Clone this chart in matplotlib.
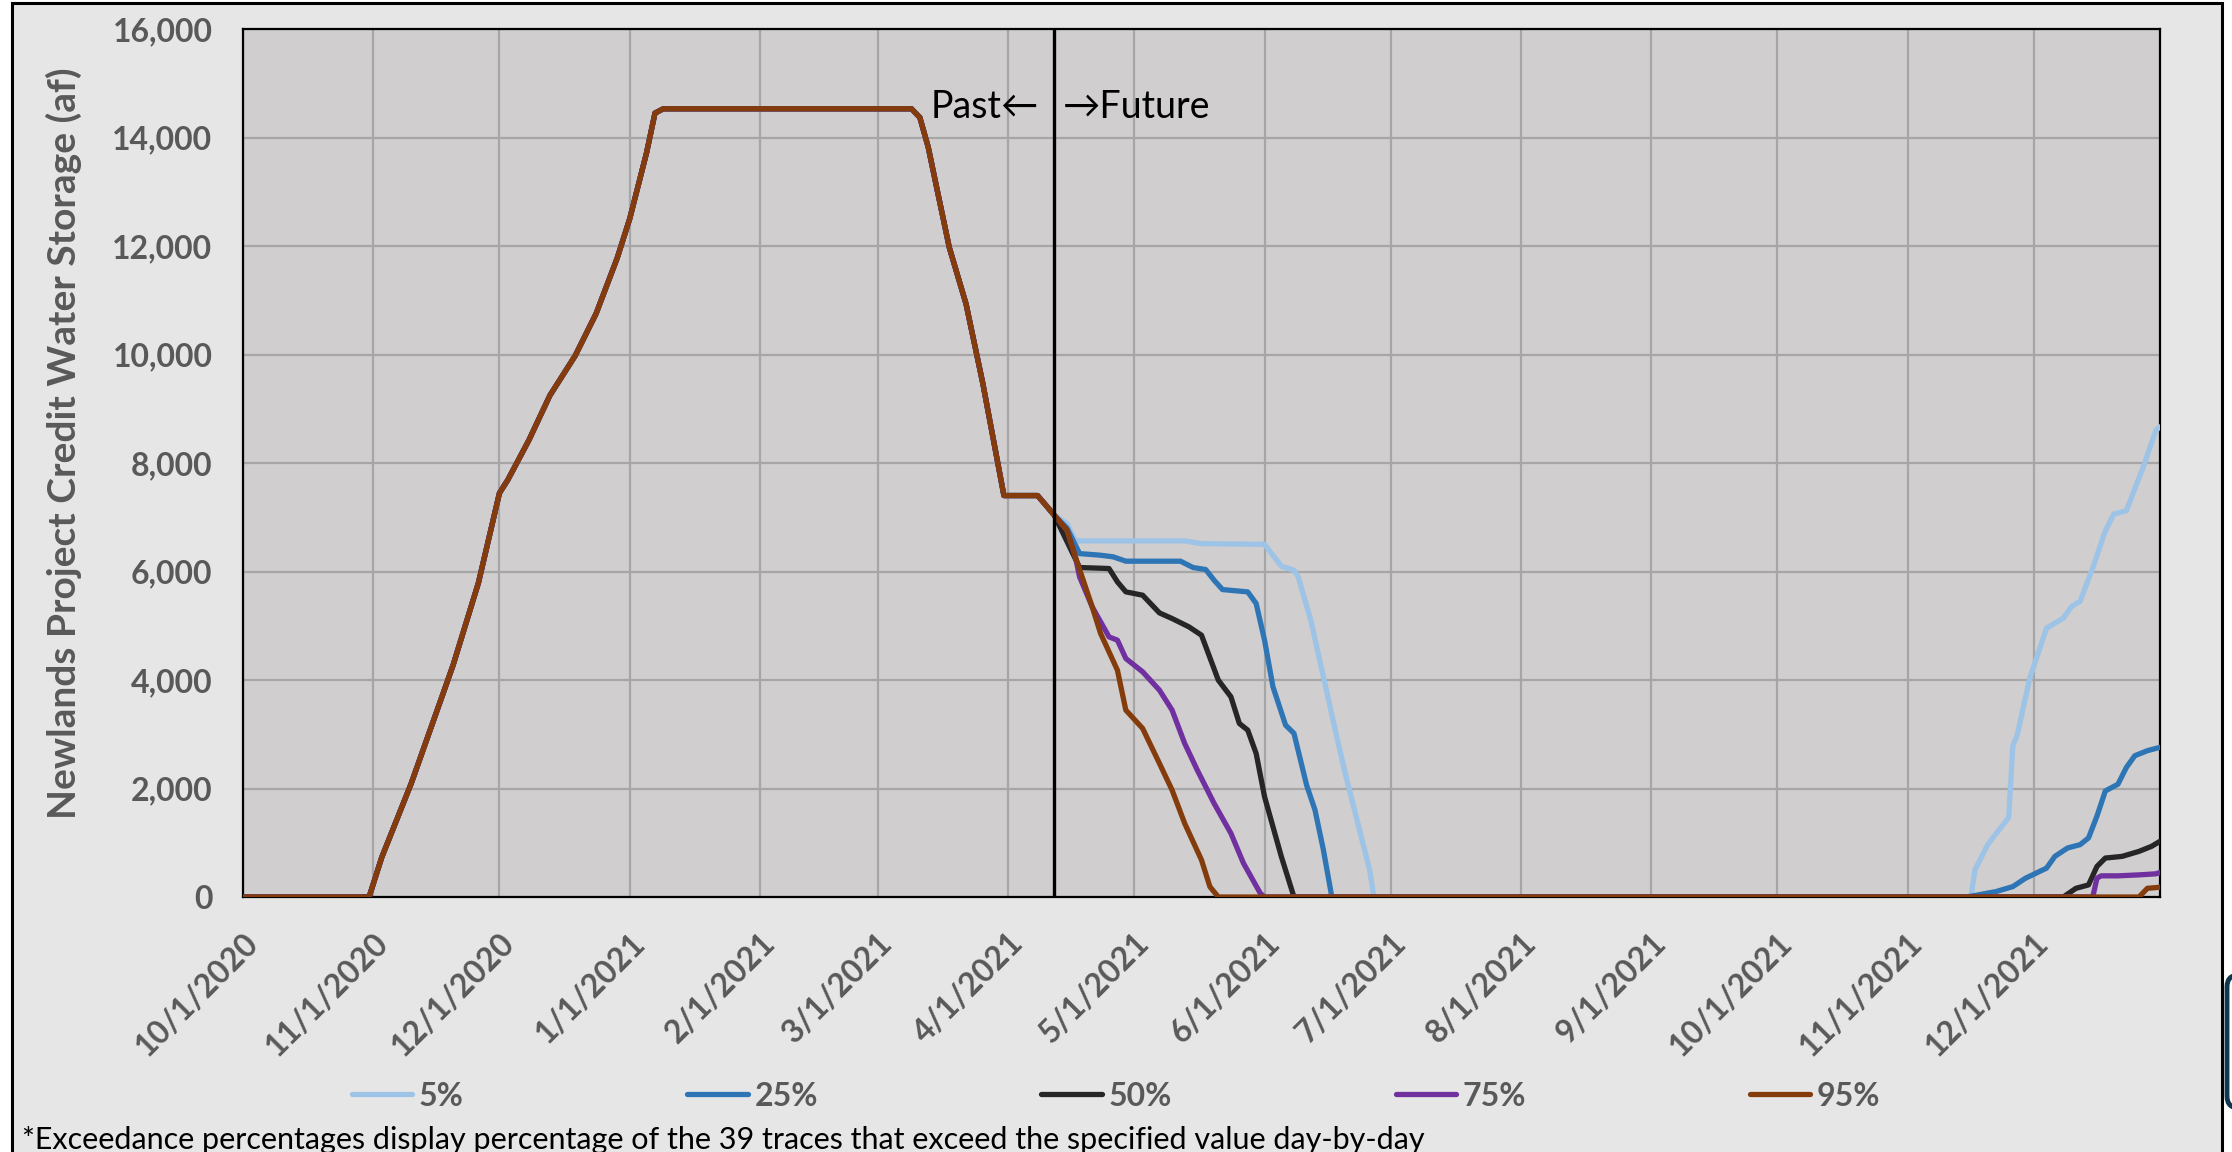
import matplotlib
matplotlib.use("Agg")
import matplotlib.pyplot as plt
import matplotlib.patches as mpatches
import matplotlib.transforms as mtransforms
from matplotlib.ticker import FuncFormatter
import pandas as pd

# ---------------- data ----------------
past_dates = ["2020-10-01", "2020-10-31", "2020-11-03", "2020-11-10", "2020-11-18", "2020-11-20",
              "2020-11-26", "2020-12-01", "2020-12-03", "2020-12-08", "2020-12-13", "2020-12-19",
              "2020-12-24", "2020-12-29", "2021-01-01", "2021-01-05", "2021-01-07", "2021-01-09",
              "2021-03-09", "2021-03-11", "2021-03-13", "2021-03-15", "2021-03-18", "2021-03-22",
              "2021-03-26", "2021-03-31", "2021-04-08", "2021-04-10", "2021-04-12"]
past_values = [0, 0, 730, 2090, 3840, 4280, 5790, 7445, 7690, 8420, 9245, 9975,
               10755, 11775, 12505, 13720, 14450, 14530,
               14530, 14370, 13820, 13080, 11975, 10930, 9460, 7400, 7400, 7220, 7035]

p5_dates = ["2021-04-15", "2021-04-17", "2021-05-13", "2021-05-17", "2021-06-01", "2021-06-05",
            "2021-06-08", "2021-06-09", "2021-06-12", "2021-06-15", "2021-06-18", "2021-06-20",
            "2021-06-23", "2021-06-26", "2021-06-27", "2021-11-16", "2021-11-17", "2021-11-20",
            "2021-11-24", "2021-11-25", "2021-11-26", "2021-11-27", "2021-11-30", "2021-12-04",
            "2021-12-08", "2021-12-10", "2021-12-12", "2021-12-15", "2021-12-18", "2021-12-20",
            "2021-12-23", "2021-12-27", "2021-12-30", "2021-12-31"]
p5_values = [6882, 6564, 6564, 6514, 6500, 6097, 6023, 5900, 5102, 4058, 3015, 2339,
             1418, 497, 0, 0, 501, 965, 1367, 1460, 2790, 2975, 4027, 4955,
             5140, 5357, 5450, 6068, 6749, 7058, 7120, 7924, 8600, 8667]

p25_dates = ["2021-04-15", "2021-04-18", "2021-04-23", "2021-04-26", "2021-04-29", "2021-05-12",
             "2021-05-15", "2021-05-18", "2021-05-20", "2021-05-22", "2021-05-28", "2021-05-30",
             "2021-06-01", "2021-06-03", "2021-06-06", "2021-06-08", "2021-06-11", "2021-06-13",
             "2021-06-15", "2021-06-17", "2021-11-15", "2021-11-22", "2021-11-26", "2021-11-29",
             "2021-12-04", "2021-12-06", "2021-12-09", "2021-12-12", "2021-12-14", "2021-12-16",
             "2021-12-18", "2021-12-21", "2021-12-23", "2021-12-25", "2021-12-28", "2021-12-31"]
p25_values = [6800, 6330, 6300, 6270, 6190, 6190, 6073, 6036, 5839, 5667, 5624, 5410,
              4734, 3874, 3168, 3015, 2063, 1603, 866, 0, 0, 100, 192, 346,
              532, 749, 903, 965, 1089, 1491, 1955, 2079, 2388, 2604, 2697, 2759]

p50_dates = ["2021-04-16", "2021-04-18", "2021-04-25", "2021-04-27", "2021-04-29", "2021-05-03",
             "2021-05-07", "2021-05-10", "2021-05-14", "2021-05-17", "2021-05-21", "2021-05-24",
             "2021-05-26", "2021-05-28", "2021-05-30", "2021-06-01", "2021-06-05", "2021-06-08",
             "2021-12-08", "2021-12-11", "2021-12-14", "2021-12-16", "2021-12-18", "2021-12-22",
             "2021-12-26", "2021-12-29", "2021-12-31"]
p50_values = [6392, 6073, 6055, 5809, 5625, 5563, 5237, 5133, 4980, 4826, 3997, 3690,
              3199, 3076, 2646, 1848, 743, 0, 0, 160, 223, 563, 718, 749, 841, 934, 1027]

p75_dates = ["2021-04-15", "2021-04-17", "2021-04-18", "2021-04-21", "2021-04-25", "2021-04-27",
             "2021-04-29", "2021-05-03", "2021-05-07", "2021-05-10", "2021-05-13", "2021-05-16",
             "2021-05-20", "2021-05-24", "2021-05-27", "2021-05-31", "2021-06-01", "2021-12-15",
             "2021-12-16", "2021-12-17", "2021-12-21", "2021-12-26", "2021-12-30", "2021-12-31"]
p75_values = [6760, 6269, 5900, 5348, 4795, 4734, 4396, 4151, 3813, 3445, 2831, 2339,
              1725, 1173, 620, 67, 0, 0, 346, 390, 390, 408, 427, 452]

p95_dates = ["2021-04-15", "2021-04-17", "2021-04-21", "2021-04-23", "2021-04-27", "2021-04-29",
             "2021-05-03", "2021-05-07", "2021-05-10", "2021-05-13", "2021-05-17", "2021-05-19",
             "2021-05-21", "2021-12-26", "2021-12-28", "2021-12-31"]
p95_values = [6760, 6269, 5348, 4857, 4181, 3445, 3107, 2462, 1971, 1357, 682, 190,
              0, 0, 160, 180]

series_labels = ["5%", "25%", "50%", "75%", "95%"]
series_dates = [p5_dates, p25_dates, p50_dates, p75_dates, p95_dates]
series_values = [p5_values, p25_values, p50_values, p75_values, p95_values]
series_colors = ["#9DC3E6", "#2E75B6", "#262626", "#7030A0", "#843C0C"]

split_date = "2021-04-12"
x_start, x_end = "2020-10-01", "2021-12-31"
y_ticks = [0, 2000, 4000, 6000, 8000, 10000, 12000, 14000, 16000]
month_ticks = pd.date_range("2020-10-01", "2021-12-01", freq="MS")

# ---------------- figure ----------------
plt.rcParams["font.family"] = ["Lato", "DejaVu Sans"]
W, H = 2232, 1152
fig = plt.figure(figsize=(W / 100, H / 100), dpi=100)
fig.patch.set_facecolor("white")

# outer chart frame
frame = mpatches.Rectangle((12 / W, -0.02), (2222 - 12) / W, (1 - 3 / H) + 0.02,
                           transform=fig.transFigure, facecolor="#E6E6E6",
                           edgecolor="black", linewidth=2.2, zorder=0)
fig.add_artist(frame)

# partially visible rounded box at the right edge
navy = mpatches.FancyBboxPatch((2227, H - 1108), 60, 133,
                               boxstyle="round,pad=0,rounding_size=12",
                               transform=mtransforms.IdentityTransform(),
                               facecolor="white", edgecolor="#10364F", linewidth=3.5, zorder=0)
fig.add_artist(navy)

ax = fig.add_axes([243 / W, 1 - 897 / H, (2160 - 243) / W, (897 - 29) / H])
ax.set_facecolor("#D0CECE")

for lab, d, v, c in zip(series_labels, series_dates, series_values, series_colors):
    dates = pd.to_datetime(past_dates + d)
    vals = past_values + v
    ax.plot(dates, vals, color=c, lw=3.8, label=lab, solid_capstyle="round",
            solid_joinstyle="round", zorder=3)

ax.axvline(pd.Timestamp(split_date), color="black", lw=2.4, zorder=4)
ax.annotate("Past\u2190", xy=(pd.Timestamp(split_date), 14560), xytext=(-11, 0),
            textcoords="offset points", ha="right", va="center", fontsize=27, color="black")
ax.annotate("\u2192Future", xy=(pd.Timestamp(split_date), 14560), xytext=(6, 0),
            textcoords="offset points", ha="left", va="center", fontsize=27, color="black")

ax.set_xlim(pd.Timestamp(x_start), pd.Timestamp(x_end))
ax.set_ylim(0, 16000)
ax.set_yticks(y_ticks)
ax.yaxis.set_major_formatter(FuncFormatter(lambda v, p: f"{int(v):,}"))
ax.set_xticks(month_ticks)
ax.set_xticklabels([f"{d.month}/{d.day}/{d.year}" for d in month_ticks])
ax.grid(True, color="#A6A6A6", lw=1.6, zorder=1)
ax.set_axisbelow(True)
for s in ax.spines.values():
    s.set_color("black")
    s.set_linewidth(1.6)

ax.tick_params(axis="both", length=0, colors="#595959", labelsize=23)
ax.tick_params(axis="y", pad=22)
ax.tick_params(axis="x", pad=22)
for t in ax.get_yticklabels():
    t.set_fontweight("bold")
for t in ax.get_xticklabels():
    t.set_fontweight("bold")
    t.set_rotation(45)
    t.set_ha("right")
    t.set_va("top")
    t.set_rotation_mode("anchor")

ax.set_ylabel("Newlands Project Credit Water Storage (af)", fontsize=28, fontweight="bold",
              color="#595959")
ax.yaxis.label.set_verticalalignment("center")
ax.yaxis.set_label_coords((64 - 243) / (2160 - 243), 0.523)

leg = fig.legend(loc="center", bbox_to_anchor=(0.5, 1 - 1096 / H), ncol=5, frameon=False,
                 handlelength=1.9, handletextpad=0.2, columnspacing=7.0,
                 prop={"size": 23, "weight": "bold"})
for t in leg.get_texts():
    t.set_color("#595959")

fig.text(22 / W, 1 - 1140 / H,
         "*Exceedance percentages display percentage of the 39 traces that exceed the specified value day-by-day",
         fontsize=22, color="black", ha="left", va="center")

fig.savefig("out.png", dpi=100, facecolor=fig.get_facecolor())
